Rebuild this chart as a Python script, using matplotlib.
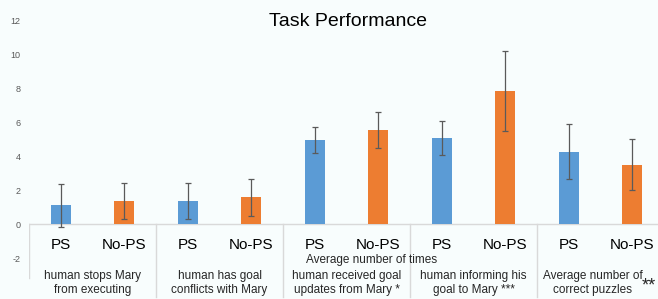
import matplotlib
matplotlib.use("Agg")
import matplotlib.pyplot as plt
import numpy as np

plt.rcParams['font.family'] = ['Liberation Sans', 'DejaVu Sans']

groups = ["human stops Mary\nfrom executing",
          "human has goal\nconflicts with Mary",
          "human received goal\nupdates from Mary *",
          "human informing his\ngoal to Mary ***",
          "Average number of\ncorrect puzzles"]
conditions = ["PS", "No-PS"]
ps_vals = [1.1, 1.35, 4.95, 5.07, 4.25]
ps_err = [1.25, 1.07, 0.77, 1.0, 1.63]
nops_vals = [1.35, 1.56, 5.55, 7.8, 3.5]
nops_err = [1.07, 1.06, 1.06, 2.35, 1.52]
yticks = [-2, 0, 2, 4, 6, 8, 10, 12]
title = "Task Performance"
subtitle = "Average number of times"
blue = "#5B9BD5"
orange = "#ED7D31"
bg = "#F8FDFD"

W, H = 658, 299
fig = plt.figure(figsize=(W / 100, H / 100), dpi=100, facecolor=bg)
ax = fig.add_axes([29 / W, 0, 1 - 29 / W, 1])
ax.set_facecolor(bg)

slot_px = 63.5
zero_px = 224
unit_px = 17.0
ax.set_xlim(0, (W - 29) / slot_px)
ax.set_ylim(-(H - zero_px) / unit_px, zero_px / unit_px)

n = len(groups)
x_ps = np.arange(n) * 2 + 0.5
x_nops = np.arange(n) * 2 + 1.5
bw = 0.32
ekw = dict(ecolor="#5A5A5A", elinewidth=0.9, capsize=2.5, capthick=0.9)
ax.bar(x_ps, ps_vals, bw, color=blue, yerr=ps_err, error_kw=ekw, zorder=3)
ax.bar(x_nops, nops_vals, bw, color=orange, yerr=nops_err, error_kw=ekw, zorder=3)

# zero line and group separators
ax.axhline(0, color="#D9D9D9", lw=1, zorder=2)
ymin = ax.get_ylim()[0]
ax.plot([0, 0], [0, -3.2], color="#D9D9D9", lw=1, zorder=2)
for i in range(1, n):
    ax.plot([2 * i, 2 * i], [0, ymin + 0.1], color="#D9D9D9", lw=1, zorder=2)

for s in ax.spines.values():
    s.set_visible(False)
ax.set_xticks([])
ax.set_yticks(yticks)
ax.set_yticklabels([str(t) for t in yticks], fontsize=6.5, color="#595959")
ax.tick_params(axis="y", length=0, pad=6)

# condition labels
for i in range(n):
    ax.text(x_ps[i], -1.22, conditions[0], ha="center", va="center", fontsize=11, color="black")
    ax.text(x_nops[i], -1.22, conditions[1], ha="center", va="center", fontsize=11, color="black")

# group labels
for i, g in enumerate(groups):
    cx = 2 * i + 1
    if i == n - 1:
        cx = 2 * i + 0.88
    ax.text(cx, -3.47, g, ha="center", va="center", fontsize=8.5, color="#262626", linespacing=1.2)
ax.text(2 * (n - 1) + 1.65, -3.62, "**", ha="left", va="center", fontsize=13, color="#262626")

ax.text(5.4, -2.1, subtitle, ha="center", va="center", fontsize=8.5, color="#262626")

fig.text(348 / W, 1 - 21 / H, title, ha="center", va="center", fontsize=14, color="black")

fig.savefig("out.png", dpi=100, facecolor=bg)
